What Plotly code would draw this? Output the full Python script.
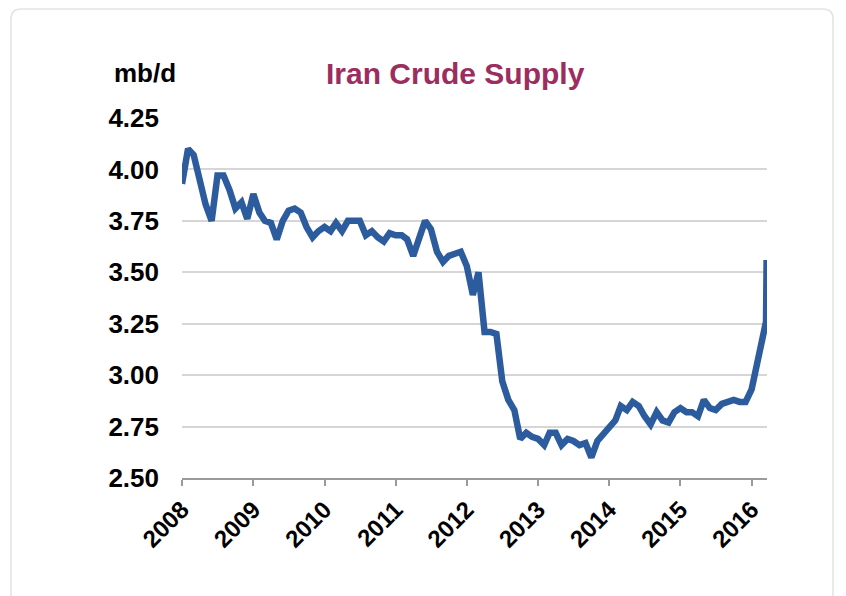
import pandas as pd
import plotly.graph_objects as go

# Monthly supply, Jan 2008 onward (mb/d)
monthly_values = [
    3.93, 4.10, 4.07, 3.95, 3.83, 3.75, 3.97, 3.97, 3.90, 3.81, 3.84, 3.76,
    3.88, 3.79, 3.75, 3.74, 3.66, 3.75, 3.80, 3.81, 3.79, 3.72, 3.67, 3.70,
    3.72, 3.70, 3.74, 3.70, 3.75, 3.75, 3.75, 3.68, 3.70, 3.67, 3.65, 3.69,
    3.68, 3.68, 3.66, 3.58, 3.67, 3.75, 3.71, 3.60, 3.55, 3.58, 3.59, 3.60,
    3.53, 3.39, 3.50, 3.21, 3.21, 3.20, 2.97, 2.88, 2.83, 2.69, 2.72, 2.70,
    2.69, 2.66, 2.72, 2.72, 2.66, 2.69, 2.68, 2.66, 2.67, 2.60, 2.68, 2.71,
    2.74, 2.78, 2.85, 2.83, 2.87, 2.85, 2.80, 2.76, 2.82, 2.78, 2.77, 2.82,
    2.84, 2.82, 2.82, 2.80, 2.88, 2.84, 2.83, 2.86, 2.87, 2.88, 2.87, 2.87,
    2.93, 3.08, 3.22,
]
latest_dates = ["2016-03-15", "2016-03-18"]
latest_values = [3.26, 3.56]

dates = [d.strftime("%Y-%m-%d") for d in pd.date_range("2008-01-01", periods=len(monthly_values), freq="MS")]
dates = dates + latest_dates
values = monthly_values + latest_values

year_ticks = [f"{y}-01-01" for y in range(2008, 2017)]
year_labels = [str(y) for y in range(2008, 2017)]
y_ticks = [2.50, 2.75, 3.00, 3.25, 3.50, 3.75, 4.00, 4.25]

title_text = "Iran Crude Supply"
unit_text = "mb/d"

font_family = "Liberation Sans, Arial, sans-serif"

fig = go.Figure()
fig.add_trace(go.Scatter(
    x=dates, y=values, mode="lines",
    line=dict(color="#2C5C9E", width=6.5),
    hoverinfo="skip",
))

# rounded frame around the card
L, R, T, B = -0.2923, 1.1128, 1.3028, -0.40
rx, ry = 0.017, 0.028
frame_path = (
    f"M {L+rx},{T} L {R-rx},{T} Q {R},{T} {R},{T-ry} "
    f"L {R},{B} L {L},{B} L {L},{T-ry} Q {L},{T} {L+rx},{T} Z"
)

fig.update_layout(
    width=846, height=596,
    margin=dict(l=174, r=87, t=110, b=126),
    paper_bgcolor="white", plot_bgcolor="white",
    showlegend=False,
    font=dict(family=font_family, color="black"),
    xaxis=dict(
        type="date",
        range=["2008-01-01", "2016-03-20"],
        tickvals=year_ticks, ticktext=year_labels,
        tickangle=-45,
        tickfont=dict(size=24, family=font_family, color="black", weight="bold"),
        showgrid=False, zeroline=False,
        showline=True, linecolor="#9a9a9a", linewidth=2,
        ticks="outside", ticklen=6, tickcolor="#9a9a9a", tickwidth=2,
    ),
    yaxis=dict(
        range=[2.5, 4.25],
        tickvals=y_ticks, ticktext=[f"{v:.2f}" for v in y_ticks],
        tickfont=dict(size=26, family=font_family, color="black", weight="bold"),
        showgrid=True, gridcolor="#d6d6d6", gridwidth=1.5,
        zeroline=False, showline=False,
        ticks="", ticklabelstandoff=22,
    ),
    shapes=[dict(
        type="path", xref="paper", yref="paper",
        path=frame_path,
        line=dict(color="#e3e3e3", width=1.5), layer="below",
    )],
    annotations=[
        dict(text=title_text, xref="paper", yref="paper", x=0.468, y=1.125,
             xanchor="center", yanchor="middle", showarrow=False,
             font=dict(size=30, color="#9C2D5F", family=font_family, weight="bold")),
        dict(text=unit_text, xref="paper", yref="paper", x=-0.12, y=1.125,
             xanchor="left", yanchor="middle", showarrow=False,
             font=dict(size=26, color="black", family=font_family, weight="bold")),
    ],
)

fig.write_html("out.html")
